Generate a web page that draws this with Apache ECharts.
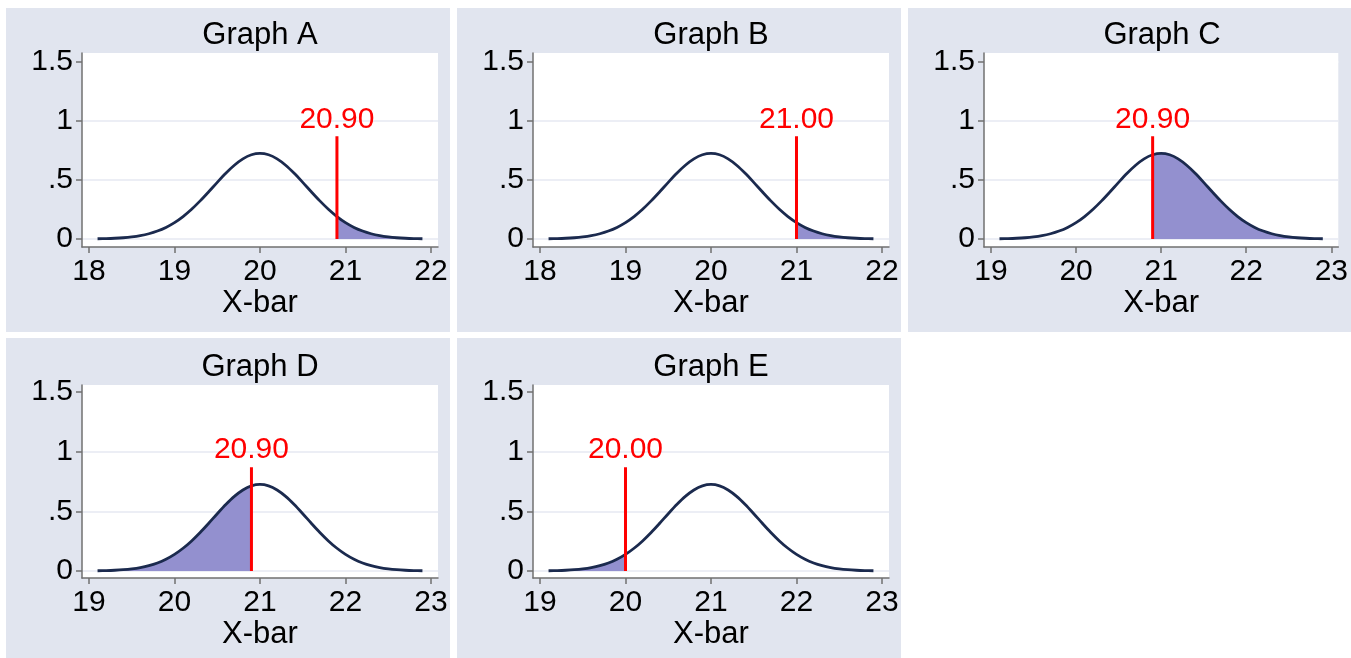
<!DOCTYPE html>
<html><head><meta charset="utf-8">
<script src="https://cdn.jsdelivr.net/npm/echarts@6/dist/echarts.min.js"></script>
<style>html,body{margin:0;padding:0;background:#fff}#c{width:1351px;height:658px}</style>
</head><body><div id="c"></div><script>
// ---- data ----
const panelNames = ['Graph A', 'Graph B', 'Graph C', 'Graph D', 'Graph E'];
const xValuesMean20 = [18.1,18.2,18.3,18.4,18.5,18.6,18.7,18.8,18.9,19.0,19.1,19.2,19.3,19.4,19.5,19.6,19.7,19.8,19.9,20.0,20.1,20.2,20.3,20.4,20.5,20.6,20.7,20.8,20.9,21.0,21.1,21.2,21.3,21.4,21.5,21.6,21.7,21.8,21.9];
const xValuesMean21 = [19.1,19.2,19.3,19.4,19.5,19.6,19.7,19.8,19.9,20.0,20.1,20.2,20.3,20.4,20.5,20.6,20.7,20.8,20.9,21.0,21.1,21.2,21.3,21.4,21.5,21.6,21.7,21.8,21.9,22.0,22.1,22.2,22.3,22.4,22.5,22.6,22.7,22.8,22.9];
const densityValues = [0.0019,0.0034,0.0061,0.0105,0.0176,0.0284,0.0444,0.0671,0.0982,0.1389,0.1902,0.2518,0.3227,0.4001,0.4798,0.5567,0.6250,0.6789,0.7134,0.7253,0.7134,0.6789,0.6250,0.5567,0.4798,0.4001,0.3227,0.2518,0.1902,0.1389,0.0982,0.0671,0.0444,0.0284,0.0176,0.0105,0.0061,0.0034,0.0019];
const panelCurveX = [xValuesMean20, xValuesMean20, xValuesMean21, xValuesMean21, xValuesMean21];
const cutoffValues = [20.90, 21.00, 20.90, 20.90, 20.00];
const shadeSides = ['upper', 'upper', 'upper', 'lower', 'lower'];
const xTicksMean20 = [18, 19, 20, 21, 22];
const xTicksMean21 = [19, 20, 21, 22, 23];
const panelXTicks = [xTicksMean20, xTicksMean20, xTicksMean21, xTicksMean21, xTicksMean21];
const yTickValues = [0, 0.5, 1, 1.5];
const yTickLabels = ['0', '.5', '1', '1.5'];
const markerHeight = 0.87;
const xAxisTitle = 'X-bar';

// ---- layout ----
const FONT = "'Liberation Sans', Arial, Helvetica, sans-serif";
const panelCols = [6, 457, 908];
const panelWidths = [444, 444, 443];
const rows = [
  { top: 8, height: 324, plotTop: 53, plotH: 194, titleY: 35, yMin: -0.068, yMax: 1.576 },
  { top: 338, height: 320, plotTop: 385, plotH: 193, titleY: 367, yMin: -0.059, yMax: 1.559 }
];
const PAD = 0.082;
const chart = echarts.init(document.getElementById('c'), null, { renderer: 'canvas' });

const grids = [], xAxes = [], yAxes = [], series = [], graphics = [];
panelNames.forEach((name, i) => {
  const r = rows[Math.floor(i / 3)];
  const c = i % 3;
  const x0 = panelCols[c];
  const plotLeft = x0 + 76, plotW = 356;
  graphics.push({ type: 'rect', z: -100, shape: { x: x0, y: r.top, width: panelWidths[c], height: r.height }, style: { fill: '#e1e5ef' } });
  graphics.push({ type: 'text', z: 10, style: { text: name, x: plotLeft + plotW / 2, y: r.titleY, textAlign: 'center', textVerticalAlign: 'middle', font: '31px ' + FONT, fill: '#000' } });
  grids.push({ left: plotLeft, top: r.plotTop, width: plotW, height: r.plotH, show: true, backgroundColor: '#ffffff', borderWidth: 0, containLabel: false });
  const ticks = panelXTicks[i];
  xAxes.push({
    type: 'value', gridIndex: i, min: ticks[0] - PAD, max: ticks[ticks.length - 1] + PAD,
    axisLine: { show: true, onZero: false, lineStyle: { color: '#707070', width: 1.5 } },
    axisTick: { show: true, length: 6, customValues: ticks, lineStyle: { color: '#707070', width: 1.5 } },
    axisLabel: { customValues: ticks, margin: 10, fontSize: 30, fontFamily: FONT, color: '#000', formatter: v => String(Math.round(v)) },
    splitLine: { show: false },
    name: xAxisTitle, nameLocation: 'middle', nameGap: 40,
    nameTextStyle: { fontSize: 31, fontFamily: FONT, color: '#000' }
  });
  yAxes.push({
    type: 'value', gridIndex: i, min: r.yMin, max: r.yMax,
    axisLine: { show: true, onZero: false, lineStyle: { color: '#707070', width: 1.5 } },
    axisTick: { show: true, length: 6, customValues: yTickValues, lineStyle: { color: '#707070', width: 1.5 } },
    axisLabel: { customValues: yTickValues, margin: 9, fontSize: 30, fontFamily: FONT, color: '#000',
      formatter: v => { const k = yTickValues.findIndex(t => Math.abs(t - v) < 1e-6); return k >= 0 ? yTickLabels[k] : ''; } },
    splitLine: { show: true, lineStyle: { color: ['#e6e9f2', '#e6e9f2', '#e6e9f2', '#ffffff'], width: 1.5 } }
  });
  const xs = panelCurveX[i];
  const pts = xs.map((x, k) => [x, densityValues[k]]);
  const cut = cutoffValues[i];
  const shadePts = pts.filter(p => shadeSides[i] === 'upper' ? p[0] >= cut - 1e-9 : p[0] <= cut + 1e-9);
  series.push({
    type: 'line', xAxisIndex: i, yAxisIndex: i, data: shadePts, smooth: 0.3, showSymbol: false, silent: true,
    lineStyle: { width: 0 }, itemStyle: { color: '#9390cf' },
    areaStyle: { color: '#9390cf', opacity: 1, origin: 0 }, z: 2
  });
  series.push({
    type: 'line', xAxisIndex: i, yAxisIndex: i, data: pts, smooth: 0.3, showSymbol: false, silent: true,
    lineStyle: { color: '#1b2a4e', width: 2.8 }, itemStyle: { color: '#1b2a4e' }, z: 3
  });
  series.push({
    type: 'line', xAxisIndex: i, yAxisIndex: i, silent: true, z: 4,
    symbol: 'circle', symbolSize: 0, showSymbol: true,
    lineStyle: { color: '#ff0000', width: 3 }, itemStyle: { color: '#ff0000' },
    data: [
      { value: [cut, 0] },
      { value: [cut, markerHeight], label: { show: true, position: 'top', distance: 2, formatter: cut.toFixed(2), fontSize: 30, fontFamily: FONT, color: '#ff0000' } }
    ]
  });
});

chart.setOption({
  animation: false,
  backgroundColor: '#ffffff',
  grid: grids, xAxis: xAxes, yAxis: yAxes, series: series,
  graphic: { elements: graphics }
});
</script></body></html>
